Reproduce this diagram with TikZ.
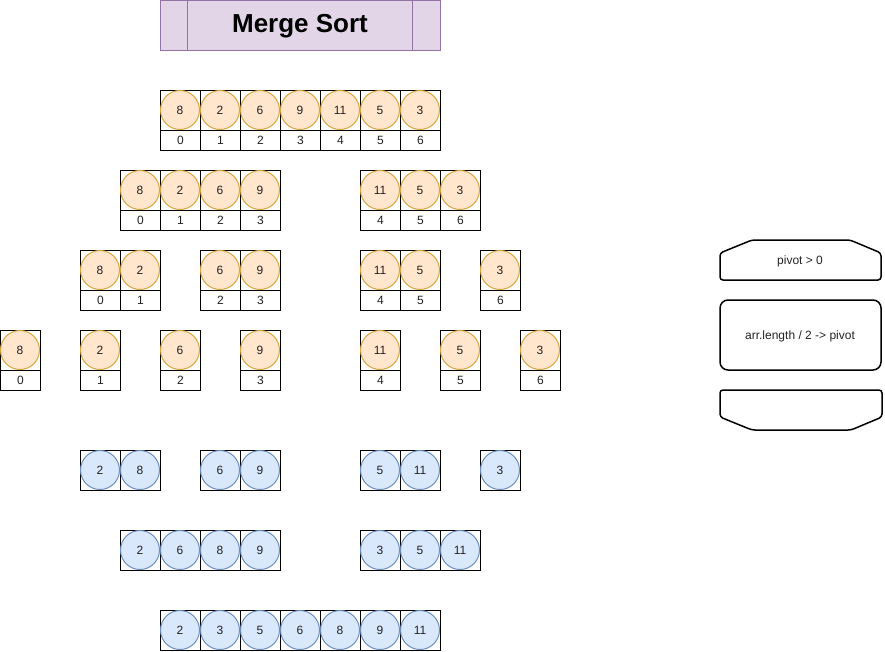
\documentclass[tikz,border=0pt]{standalone}
\usepackage{fontspec}
\setmainfont{Liberation Sans}
\definecolor{ofill}{HTML}{FFE6CC}
\definecolor{odraw}{HTML}{D8A640}
\definecolor{bfill}{HTML}{DAE8FC}
\definecolor{bdraw}{HTML}{6C8EBF}
\definecolor{tfill}{HTML}{E1D5E7}
\definecolor{tdraw}{HTML}{9673A6}
\definecolor{txt}{HTML}{222222}
\tikzset{
  cellbox/.style={draw=black, line width=1pt, minimum width=40pt, minimum height=40pt, inner sep=0pt, anchor=north west},
  idxbox/.style={draw=black, line width=1pt, minimum width=40pt, minimum height=20pt, inner sep=0pt, anchor=north west, text=txt, font=\fontsize{12}{14}\selectfont},
  ocirc/.style={circle, draw=odraw, fill=ofill, line width=1pt, minimum size=39pt, inner sep=0pt, text=txt, font=\fontsize{12}{14}\selectfont},
  bcirc/.style={circle, draw=bdraw, fill=bfill, line width=1pt, minimum size=39pt, inner sep=0pt, text=txt, font=\fontsize{12}{14}\selectfont},
  titlebox/.style={draw=tdraw, fill=tfill, line width=1pt, minimum width=280pt, minimum height=50pt, inner sep=0pt},
  titletext/.style={inner sep=0pt, font=\fontsize{26}{28}\selectfont\bfseries},
  flowshape/.style={draw=black, line width=1.5pt, rounded corners=3pt},
  flowtext/.style={font=\fontsize{12}{14}\selectfont, inner sep=0pt, text=txt},
}
\newcommand\orow[3]{% name, y, list x/v/i
  \foreach \x/\v/\i in {#3} {
    \node[cellbox] (#1c\i) at (\x,#2) {};
    \node[idxbox] (#1i\i) at (\x,#2+40) {\i};
    \node[ocirc] (#1o\i) at (\x+20,#2+20) {\v};
  }
}
\newcommand\brow[3]{% name, y, list x/v/k
  \foreach \x/\v/\k in {#3} {
    \node[cellbox] (#1c\k) at (\x,#2) {};
    \node[bcirc] (#1o\k) at (\x+20,#2+20) {\v};
  }
}
\begin{document}
\begin{tikzpicture}[x=1pt,y=-1pt]
\useasboundingbox (0,0) rectangle (885,651);
% title
\node[titlebox] (title) at (300,25) {};
\node[titletext] (titlelabel) at (300,26) {Merge Sort};
\draw[draw=tdraw, line width=1pt] ([xshift=28pt]title.north west) -- ([xshift=28pt]title.south west);
\draw[draw=tdraw, line width=1pt] ([xshift=-28pt]title.north east) -- ([xshift=-28pt]title.south east);
% split rows
\orow{ra}{90}{160/8/0,200/2/1,240/6/2,280/9/3,320/11/4,360/5/5,400/3/6}
\orow{rb}{170}{120/8/0,160/2/1,200/6/2,240/9/3,360/11/4,400/5/5,440/3/6}
\orow{rc}{250}{80/8/0,120/2/1,200/6/2,240/9/3,360/11/4,400/5/5,480/3/6}
\orow{rd}{330}{0/8/0,80/2/1,160/6/2,240/9/3,360/11/4,440/5/5,520/3/6}
% merge rows
\brow{ma}{450}{80/2/0,120/8/1,200/6/2,240/9/3,360/5/4,400/11/5,480/3/6}
\brow{mb}{530}{120/2/0,160/6/1,200/8/2,240/9/3,360/3/4,400/5/5,440/11/6}
\brow{mc}{610}{160/2/0,200/3/1,240/5/2,280/6/3,320/8/4,360/9/5,400/11/6}
% flow shapes
\draw[flowshape] (720,253) -- (752,240) -- (850,240) -- (881,253) -- (881,280) -- (720,280) -- cycle;
\node[flowtext] (loopstart) at (800,261) {pivot > 0};
\draw[flowshape, rounded corners=8pt] (720,300) rectangle (881,370);
\node[flowtext] (process) at (800,336) {arr.length / 2 -> pivot};
\draw[flowshape] (720,390) -- (882,390) -- (882,417) -- (851,430) -- (752,430) -- (720,417) -- cycle;
\coordinate (loopend) at (801,410);
\end{tikzpicture}
\end{document}
